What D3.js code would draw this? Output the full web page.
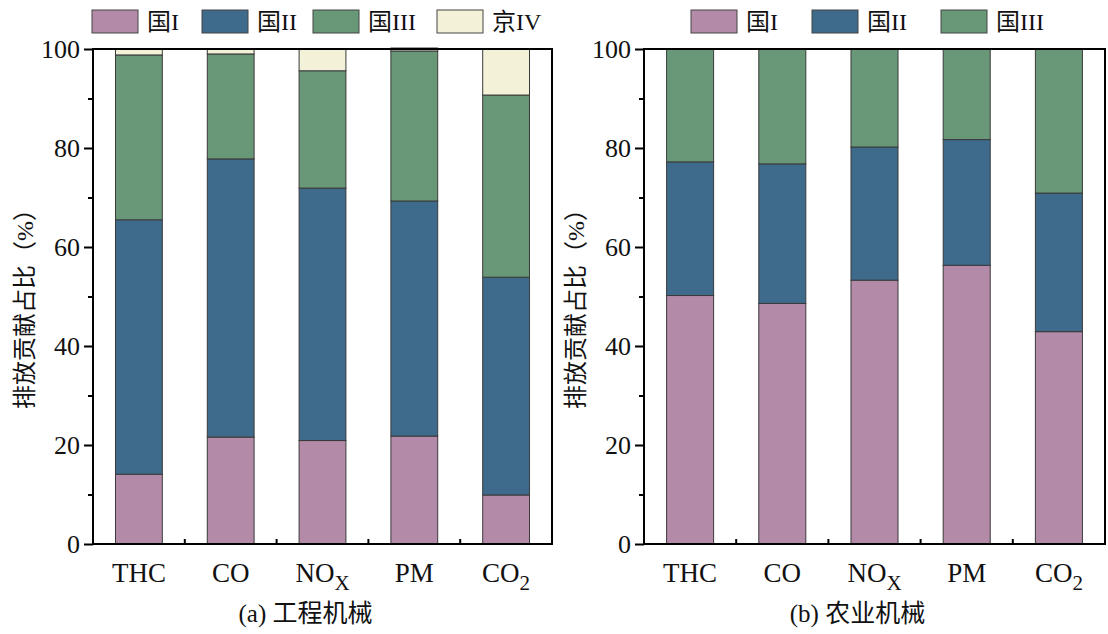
<!DOCTYPE html>
<html>
<head>
<meta charset="utf-8">
<script src="https://cdn.jsdelivr.net/npm/d3@7"></script>
<style>
  body { margin: 0; background: #fff; }
  text { font-family: "Liberation Serif", "Noto Sans CJK SC", serif; fill: #111; }
</style>
</head>
<body>
<script>
// pollutant categories (x axis)
var categories = ["THC", "CO", "NOX", "PM", "CO2"];

// (a) construction machinery, % share per emission stage
var guoI_a   = [14.1, 21.6, 20.9, 21.8, 9.9];
var guoII_a  = [51.4, 56.2, 51.0, 47.5, 44.0];
var guoIII_a = [33.3, 21.2, 23.7, 30.3, 36.8];
var jingIV_a = [1.2, 1.0, 4.4, 0.6, 9.3];

// (b) agricultural machinery
var guoI_b   = [50.2, 48.6, 53.3, 56.3, 42.9];
var guoII_b  = [27.0, 28.2, 26.9, 25.4, 28.0];
var guoIII_b = [22.8, 23.2, 19.8, 18.3, 29.1];

var seriesNames = ["国I", "国II", "国III", "京IV"];
var colors = ["#b48aa9", "#3e6a8c", "#689878", "#f3f1d8"];
var yTicks = [0, 20, 40, 60, 80, 100];

var width = 1108, height = 634;
var svg = d3.select("body").append("svg")
    .attr("width", width)
    .attr("height", height);

// draws one panel of stacked bars
function drawPanel(left, right, seriesData, title, legendX) {
  var top = 49, bottom = 544;
  var keys = seriesNames.slice(0, seriesData.length);

  var rows = categories.map(function(c, i) {
    var r = { cat: c };
    keys.forEach(function(k, j) { r[k] = seriesData[j][i]; });
    return r;
  });
  var stacked = d3.stack().keys(keys)(rows);

  var x = d3.scaleBand().domain(categories).range([left, right]).paddingInner(0.49).paddingOuter(0.245);
  var y = d3.scaleLinear().domain([0, 100]).range([bottom, top]);

  var g = svg.append("g");

  g.selectAll("g.layer")
    .data(stacked)
    .enter().append("g")
    .attr("fill", function(d, i) { return colors[i]; })
    .selectAll("rect")
    .data(function(d) { return d; })
    .enter().append("rect")
    .attr("x", function(d) { return x(d.data.cat); })
    .attr("width", x.bandwidth())
    .attr("y", function(d) { return y(d[1]); })
    .attr("height", function(d) { return y(d[0]) - y(d[1]); })
    .attr("stroke", "#3a3a3a")
    .attr("stroke-width", 1);

  // frame
  g.append("rect")
    .attr("x", left).attr("y", top)
    .attr("width", right - left).attr("height", bottom - top)
    .attr("fill", "none").attr("stroke", "#000").attr("stroke-width", 2);

  // y axis: major + minor ticks
  var yAxis = d3.axisLeft(y).tickValues(yTicks).tickSize(9).tickPadding(4);
  var ya = g.append("g").attr("transform", "translate(" + left + ",0)").call(yAxis);
  ya.select(".domain").remove();
  ya.selectAll("line").attr("stroke", "#000").attr("stroke-width", 2);
  ya.selectAll("text").style("font-size", "26px").attr("fill", "#111").attr("dy", "0.34em");

  var ym = d3.axisLeft(y).tickValues([10, 30, 50, 70, 90]).tickSize(5).tickFormat("");
  var yma = g.append("g").attr("transform", "translate(" + left + ",0)").call(ym);
  yma.select(".domain").remove();
  yma.selectAll("line").attr("stroke", "#000").attr("stroke-width", 2);

  // x minor ticks between categories (inward)
  var step = x.step();
  var bounds = categories.slice(1).map(function(c) { return x(c) - (step - x.bandwidth()) / 2; });
  g.selectAll("line.xm").data(bounds).enter().append("line")
    .attr("x1", function(d) { return d; }).attr("x2", function(d) { return d; })
    .attr("y1", bottom).attr("y2", bottom - 5)
    .attr("stroke", "#000").attr("stroke-width", 2);

  // x labels with subscripts
  categories.forEach(function(c) {
    var t = g.append("text")
      .attr("x", x(c) + x.bandwidth() / 2)
      .attr("y", bottom + 38)
      .attr("text-anchor", "middle")
      .style("font-size", "27px");
    if (c === "NOX") {
      t.append("tspan").text("NO");
      t.append("tspan").attr("dy", 8).style("font-size", "21px").text("X");
    } else if (c === "CO2") {
      t.append("tspan").text("CO");
      t.append("tspan").attr("dy", 8).style("font-size", "21px").text("2");
    } else {
      t.text(c);
    }
  });

  // y axis title
  g.append("text")
    .attr("transform", "translate(" + (left - 60) + ",303) rotate(-90)")
    .attr("text-anchor", "middle")
    .style("font-size", "24px")
    .text("排放贡献占比（%）");

  // panel title
  g.append("text")
    .attr("x", (left + right) / 2 - 17)
    .attr("y", 622)
    .attr("text-anchor", "middle")
    .style("font-size", "25px")
    .text(title);

  // legend
  keys.forEach(function(k, i) {
    g.append("rect")
      .attr("x", legendX[i]).attr("y", 10)
      .attr("width", 46).attr("height", 23)
      .attr("fill", colors[i]).attr("stroke", "#444").attr("stroke-width", 1);
    g.append("text")
      .attr("x", legendX[i] + 55).attr("y", 30)
      .style("font-size", "24px")
      .text(k);
  });
}

drawPanel(93, 552, [guoI_a, guoII_a, guoIII_a, jingIV_a], "(a) 工程机械", [92, 202, 313, 437]);
drawPanel(644, 1105, [guoI_b, guoII_b, guoIII_b], "(b) 农业机械", [691, 812, 941]);
</script>
</body>
</html>
